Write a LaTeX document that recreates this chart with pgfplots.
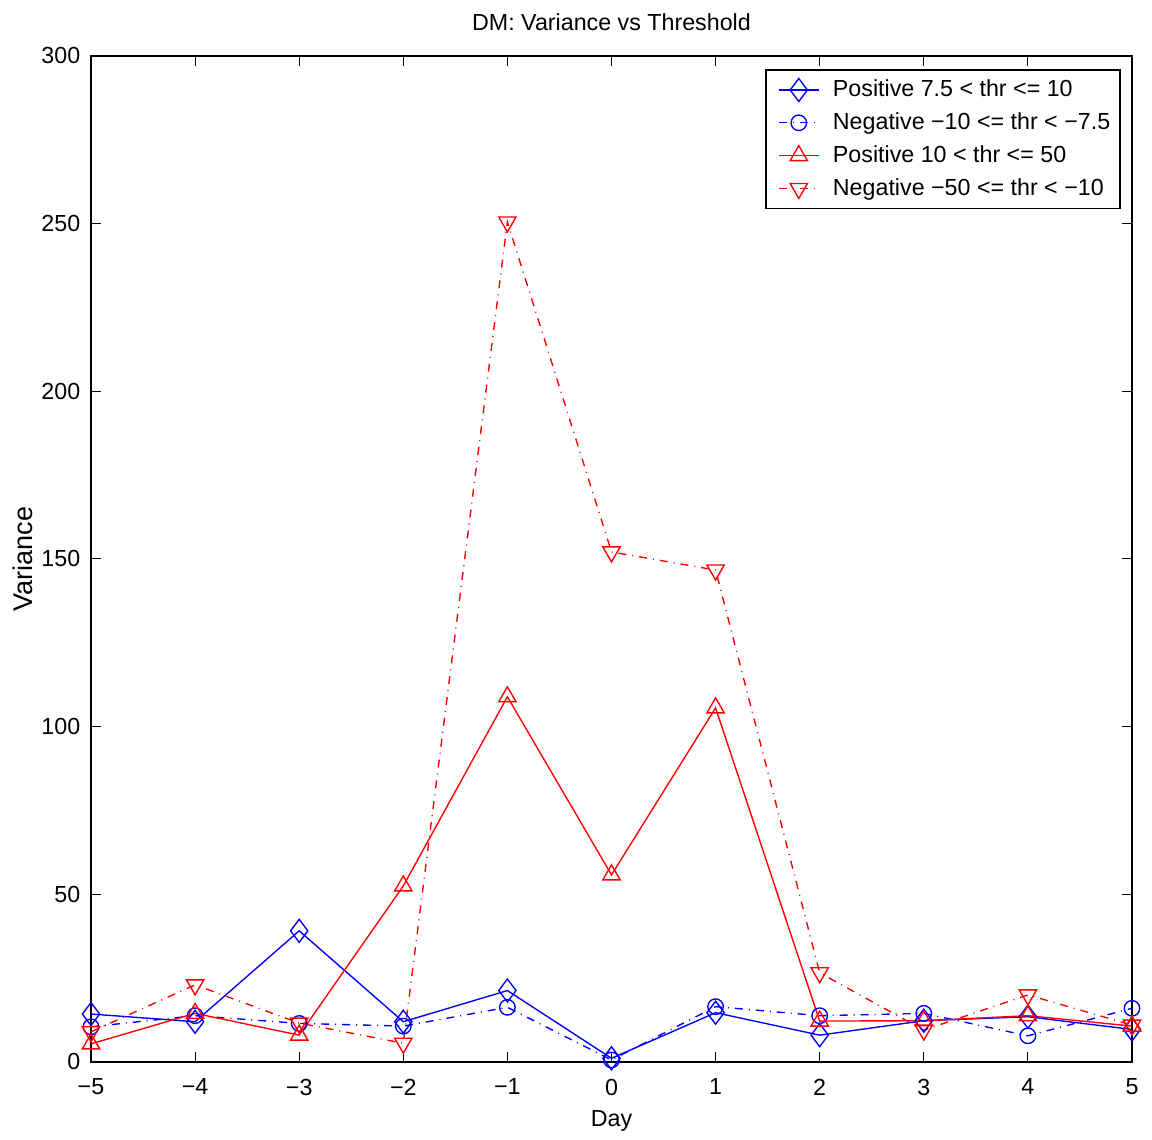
\documentclass[border=0pt]{standalone}
\usepackage{fontspec}
\setmainfont{Liberation Sans}
\usepackage{pgfplots}
\pgfplotsset{compat=1.18}
\begin{document}
\fontsize{9.3pt}{11pt}\selectfont
\begin{tikzpicture}
\pgfplotstableread{
x pos7 neg10 pos10 neg50
-5 14.3 10.5 5.4 9.0
-4 12.0 13.8 14.5 23.0
-3 39.1 11.5 8.0 11.6
-2 12.0 10.7 52.5 5.6
-1 21.3 16.3 108.9 250.5
0 1.1 0.6 55.8 152.1
1 14.7 16.5 105.6 146.7
2 8.0 13.8 12.2 26.6
3 12.3 14.5 12.3 9.5
4 13.5 7.8 13.8 20.0
5 9.7 16.0 10.7 11.0
}\datatable
\begin{axis}[
  scale only axis,
  width=416.4pt, height=402.4pt,
  xmin=-5, xmax=5, ymin=0, ymax=300,
  xtick={-5,...,5},
  xticklabels={−5,−4,−3,−2,−1,0,1,2,3,4,5},
  ytick={0,50,...,300},
  yticklabels={0,50,100,150,200,250,300},
  tick align=inside,
  major tick length=4pt,
  tick style={black, line width=0.4pt},
  axis line style={line width=0.8pt},
  xticklabel style={yshift=-3.5pt},
  yticklabel style={xshift=-1pt},
  title={DM: Variance vs Threshold},
  every axis title/.style={at={(rel axis cs:0.5,1)}, anchor=base, yshift=10pt},
  xlabel={Day},
  ylabel={Variance},
  every axis x label/.style={at={(rel axis cs:0.5,0)}, anchor=base, yshift=-26pt},
  every axis y label/.style={at={(rel axis cs:0,0.5)}, xshift=-27.4pt, rotate=90, anchor=center, font=\fontsize{10.8pt}{12pt}\selectfont},
  legend style={at={(0.9894,0.987)}, anchor=north east, draw=black, line width=0.6pt,
    row sep=1pt, inner sep=2pt, font=\fontsize{9.3pt}{11pt}\selectfont,
    legend cell align=left},
  legend image code/.code={
    \path (-0.1cm,0) (0.68cm,0);
    \draw[mark repeat=2,mark phase=2,#1] plot coordinates {(0cm,0cm) (0.28cm,0cm) (0.56cm,0cm)};},
]
\pgfplotsset{
  dd/.style={dash pattern=on 3.2pt off 2.4pt on 0.4pt off 2.4pt},
}
\addplot[blue, line width=0.55pt, mark=diamond, mark size=4.6pt, mark options={solid, fill=none}] table[x=x,y=pos7] {\datatable};
\addlegendentry{Positive 7.5 < thr <= 10}
\addplot[blue, line width=0.55pt, dd, mark=o, mark size=3.1pt, mark options={solid, fill=none}] table[x=x,y=neg10] {\datatable};
\addlegendentry{Negative −10 <= thr < −7.5}
\addplot[red, line width=0.55pt, mark=triangle, mark size=4pt, mark options={solid, fill=none}] table[x=x,y=pos10] {\datatable};
\addlegendentry{Positive 10 < thr <= 50}
\addplot[red, line width=0.55pt, dd, mark=triangle, mark size=4pt, mark options={solid, fill=none, rotate=180}] table[x=x,y=neg50] {\datatable};
\addlegendentry{Negative −50 <= thr < −10}
\end{axis}
\path ([shift={(-36.4pt,-31.2pt)}]current axis.south west) rectangle ([shift={(8pt,22.4pt)}]current axis.north east);
\end{tikzpicture}
\end{document}
